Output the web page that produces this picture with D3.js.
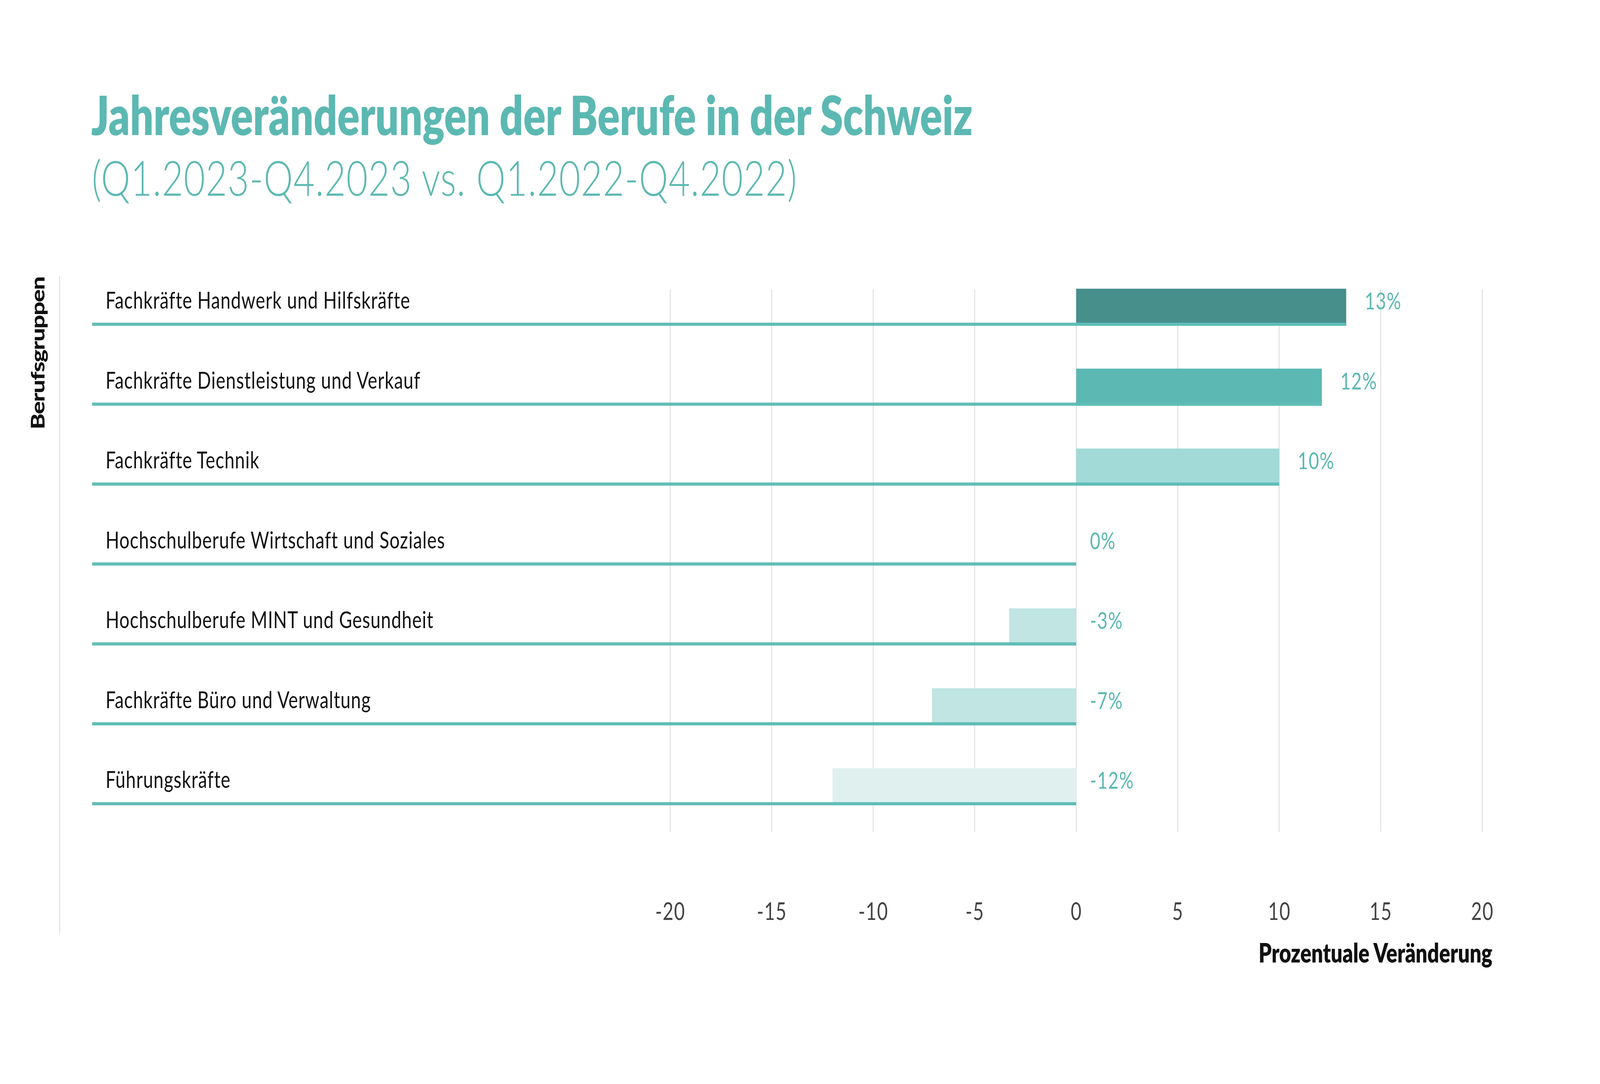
<!DOCTYPE html>
<html>
<head>
<meta charset="utf-8">
<script src="https://cdn.jsdelivr.net/npm/d3@7"></script>
<style>
  html, body { margin: 0; padding: 0; background: #ffffff; overflow: hidden; width: 100%; height: 100%; }
  svg { display: block; width: 100vw; height: 100vh; }
</style>
</head>
<body>
<svg id="chart"></svg>
<script>
// ---------- DATA ----------
const categories = [
  "Fachkräfte Handwerk und Hilfskräfte",
  "Fachkräfte Dienstleistung und Verkauf",
  "Fachkräfte Technik",
  "Hochschulberufe Wirtschaft und Soziales",
  "Hochschulberufe MINT und Gesundheit",
  "Fachkräfte Büro und Verwaltung",
  "Führungskräfte"
];
const values = [13.3, 12.1, 10.0, 0, -3.3, -7.1, -12.0];
const valueLabels = ["13%", "12%", "10%", "0%", "-3%", "-7%", "-12%"];
const xTickValues = [-20, -15, -10, -5, 0, 5, 10, 15, 20];
const xTickLabels = ["-20", "-15", "-10", "-5", "0", "5", "10", "15", "20"];
const titleText = "Jahresveränderungen der Berufe in der Schweiz";
const subtitleText = "(Q1.2023-Q4.2023 vs. Q1.2022-Q4.2022)";
const yAxisTitle = "Berufsgruppen";
const xAxisTitle = "Prozentuale Veränderung";

// ---------- LAYOUT / STYLE ----------
const W = 5367, H = 2775;
const teal = "#5cb8b2";
const lineTeal = "#5fbdb7";
const gridColor = "#dddddd";
const barPalette = ["#478f8b", "#5cb8b3", "#a2dad7", "#c0e5e3", "#c0e5e3", "#c0e5e3", "#dff0ef"];
const font = "Lato, 'Open Sans', sans-serif";

const svg = d3.select("#chart")
  .attr("viewBox", `0 0 ${W} ${H}`)
  .attr("preserveAspectRatio", "none");

const color = d3.scaleOrdinal().domain(categories).range(barPalette);

const x = d3.scaleLinear().domain([-20, 20]).range([2248, 4972]);
const y = d3.scaleBand().domain(categories).range([629.5, 2061.5]).padding(0);

const barH = 95;
const lineH = 8;
const lineLeft = 309;
const gridTop = 741, gridBottom = 2129;

function fitSize(sel, target) {
  const w = sel.node().getComputedTextLength();
  const fs = parseFloat(sel.attr("font-size"));
  sel.attr("font-size", fs * target / w);
}
function fitSpacing(sel, target, n) {
  const w = sel.node().getComputedTextLength();
  sel.attr("letter-spacing", (target - w) / (n - 1));
}

// Title
const t1 = svg.append("text")
  .attr("x", 306).attr("y", 346)
  .attr("font-family", font).attr("font-weight", 800)
  .attr("font-size", 125).attr("fill", teal)
  .text(titleText);
fitSize(t1, 2956);

const t2 = svg.append("text")
  .attr("x", 308).attr("y", 501)
  .attr("font-family", font).attr("font-weight", 300)
  .attr("font-size", 124).attr("fill", teal)
  .text(subtitleText);
fitSpacing(t2, 2365, subtitleText.length);

// Left thin vertical line
svg.append("line")
  .attr("x1", 200).attr("x2", 200).attr("y1", 706).attr("y2", 2389)
  .attr("stroke", "#d6d6d6").attr("stroke-width", 2.5);

// Y axis title
const yt = svg.append("text")
  .attr("transform", `translate(150, 904) rotate(-90)`)
  .attr("text-anchor", "middle")
  .attr("font-family", font).attr("font-weight", 900)
  .attr("font-size", 62).attr("fill", "#111")
  .text(yAxisTitle);
fitSpacing(yt, 392, yAxisTitle.length);

// Gridlines
svg.append("g").selectAll("line").data(xTickValues).join("line")
  .attr("x1", d => x(d)).attr("x2", d => x(d))
  .attr("y1", gridTop).attr("y2", gridBottom)
  .attr("stroke", gridColor).attr("stroke-width", 3);

// Bars
svg.append("g").selectAll("rect").data(categories).join("rect")
  .attr("x", (c, i) => x(Math.min(0, values[i])))
  .attr("y", c => y(c) + y.bandwidth() - barH)
  .attr("width", (c, i) => Math.abs(x(values[i]) - x(0)))
  .attr("height", barH)
  .attr("fill", c => color(c));

// Row lines
svg.append("g").selectAll("rect").data(categories).join("rect")
  .attr("x", lineLeft)
  .attr("y", c => y(c) + y.bandwidth() - lineH)
  .attr("width", (c, i) => x(Math.max(0, values[i])) - lineLeft)
  .attr("height", lineH)
  .attr("fill", lineTeal);

// Category labels
const catLabels = svg.append("g").selectAll("text").data(categories).join("text")
  .attr("x", 354)
  .attr("y", c => y(c) + y.bandwidth() - 44)
  .attr("font-family", font).attr("font-weight", 400)
  .attr("font-size", 60).attr("fill", "#111")
  .text(c => c);
{
  const first = catLabels.filter((d, i) => i === 0);
  const w = first.node().getComputedTextLength();
  catLabels.attr("letter-spacing", (1018 - w) / (categories[0].length - 1));
}

// Value labels
svg.append("g").selectAll("text").data(categories).join("text")
  .attr("x", (c, i) => values[i] > 0 ? x(values[i]) + 62 : x(0) + 46)
  .attr("y", c => y(c) + y.bandwidth() - 42)
  .attr("font-family", font).attr("font-weight", 400)
  .attr("font-size", 60).attr("fill", teal)
  .attr("letter-spacing", 2)
  .text((c, i) => valueLabels[i]);

// X axis tick labels via d3 axis
const xAxis = d3.axisBottom(x)
  .tickValues(xTickValues)
  .tickFormat((d, i) => xTickLabels[i])
  .tickSize(0).tickPadding(0);
const xg = svg.append("g").attr("transform", `translate(0, 2310)`).call(xAxis);
xg.select(".domain").remove();
xg.selectAll("text")
  .attr("font-family", font).attr("font-weight", 400)
  .attr("font-size", 62).attr("fill", "#444")
  .attr("letter-spacing", 2)
  .attr("dy", "0.72em").attr("y", 0);

// X axis title
const xt = svg.append("text")
  .attr("x", 5006).attr("y", 2464)
  .attr("text-anchor", "end")
  .attr("font-family", font).attr("font-weight", 800)
  .attr("font-size", 60).attr("fill", "#111")
  .text(xAxisTitle);
fitSize(xt, 784);
</script>
</body>
</html>
